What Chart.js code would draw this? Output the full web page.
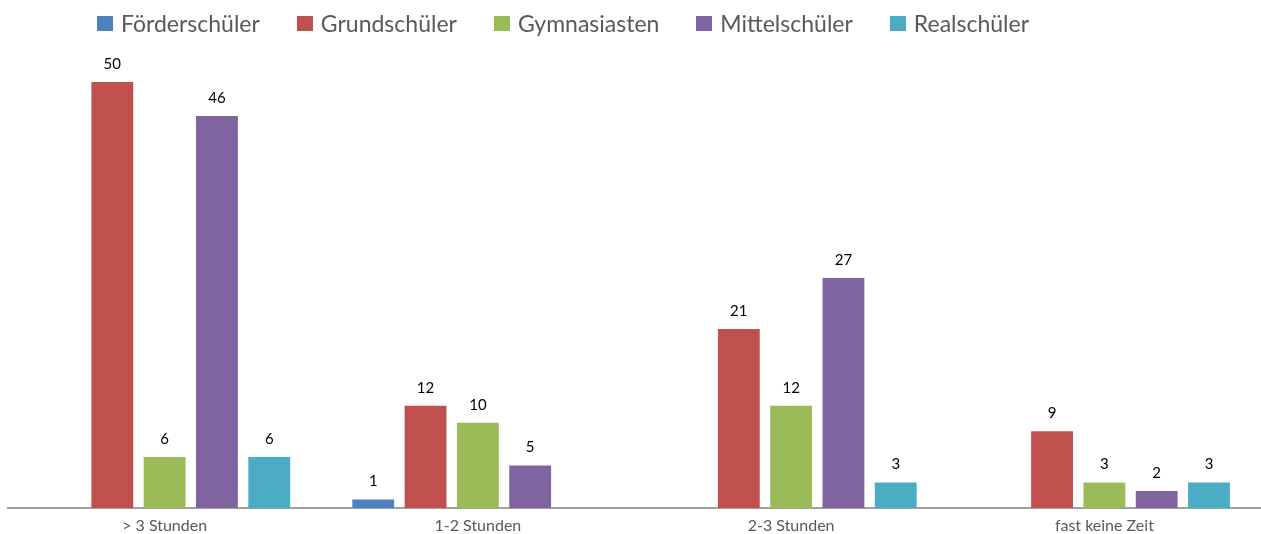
<!DOCTYPE html>
<html lang="de">
<head>
    <meta charset="UTF-8">
    <title>Schüler – Zeitaufwand</title>
    <style>
        body {
            margin: 0;
            background: #fff;
            font-family: Lato, "Open Sans", sans-serif;
        }
        #wrap {
            position: relative;
            width: 1261px;
            height: 534px;
        }
        #legend {
            position: absolute;
            top: 8px;
            left: 97px;
            display: flex;
            gap: 37px;
            font-size: 23px;
            color: #595959;
            line-height: 30px;
        }
        #legend .item {
            display: flex;
            align-items: center;
        }
        #legend .box {
            width: 16px;
            height: 15px;
            margin-right: 8px;
        }
    </style>
</head>
<body>
    <div id="wrap">
        <div id="legend"></div>
        <canvas id="bar-chart" width="1261" height="534"></canvas>
    </div>

    <script src="https://cdn.jsdelivr.net/npm/chart.js"></script>
    <script>
        // Daten
        var kategorien = ['> 3 Stunden', '1-2 Stunden', '2-3 Stunden', 'fast keine Zeit'];
        var foerderschueler = [null, 1, null, null];
        var grundschueler = [50, 12, 21, 9];
        var gymnasiasten = [6, 10, 12, 3];
        var mittelschueler = [46, 5, 27, 2];
        var realschueler = [6, null, 3, 3];

        var serien = ['Förderschüler', 'Grundschüler', 'Gymnasiasten', 'Mittelschüler', 'Realschüler'];
        var farben = ['#4F81BD', '#C0504D', '#9BBB59', '#8064A2', '#4BACC6'];
        var werte = [foerderschueler, grundschueler, gymnasiasten, mittelschueler, realschueler];

        // Werte über den Balken
        var wertLabels = {
            id: 'wertLabels',
            afterDatasetsDraw: function(chart) {
                var ctx = chart.ctx;
                ctx.save();
                ctx.font = '15px Lato, "Open Sans", sans-serif';
                ctx.fillStyle = '#000';
                ctx.textAlign = 'center';
                ctx.textBaseline = 'alphabetic';
                chart.data.datasets.forEach(function(ds, i) {
                    var meta = chart.getDatasetMeta(i);
                    meta.data.forEach(function(bar, j) {
                        var v = ds.data[j];
                        if (v === null || v === undefined) return;
                        ctx.fillText(v, bar.x, bar.y - 13);
                    });
                });
                ctx.restore();
            }
        };

        var ctxBar = document.getElementById('bar-chart').getContext('2d');
        var chart = new Chart(ctxBar, {
            type: 'bar',
            data: {
                labels: kategorien,
                datasets: serien.map(function(name, i) {
                    return {
                        label: name,
                        data: werte[i],
                        backgroundColor: farben[i],
                        borderWidth: 0,
                        categoryPercentage: 0.835,
                        barPercentage: 0.8
                    };
                })
            },
            options: {
                responsive: false,
                animation: false,
                layout: {
                    padding: { top: 82, left: 8, right: 0, bottom: 0 }
                },
                plugins: {
                    legend: { display: false },
                    tooltip: { enabled: false }
                },
                scales: {
                    x: {
                        grid: { display: false, drawTicks: false },
                        border: { color: '#a0a0a0', width: 2 },
                        ticks: {
                            color: '#595959',
                            padding: 8,
                            font: { family: 'Lato, "Open Sans", sans-serif', size: 16 }
                        },
                        afterFit: function(scale) {
                            scale.height = 26;
                        }
                    },
                    y: {
                        display: false,
                        min: 0,
                        max: 50
                    }
                }
            },
            plugins: [wertLabels]
        });

        // Legende als HTML
        var legende = document.getElementById('legend');
        serien.forEach(function(name, i) {
            var item = document.createElement('div');
            item.className = 'item';
            var box = document.createElement('span');
            box.className = 'box';
            box.style.background = farben[i];
            item.appendChild(box);
            item.appendChild(document.createTextNode(name));
            legende.appendChild(item);
        });
    </script>
</body>
</html>
